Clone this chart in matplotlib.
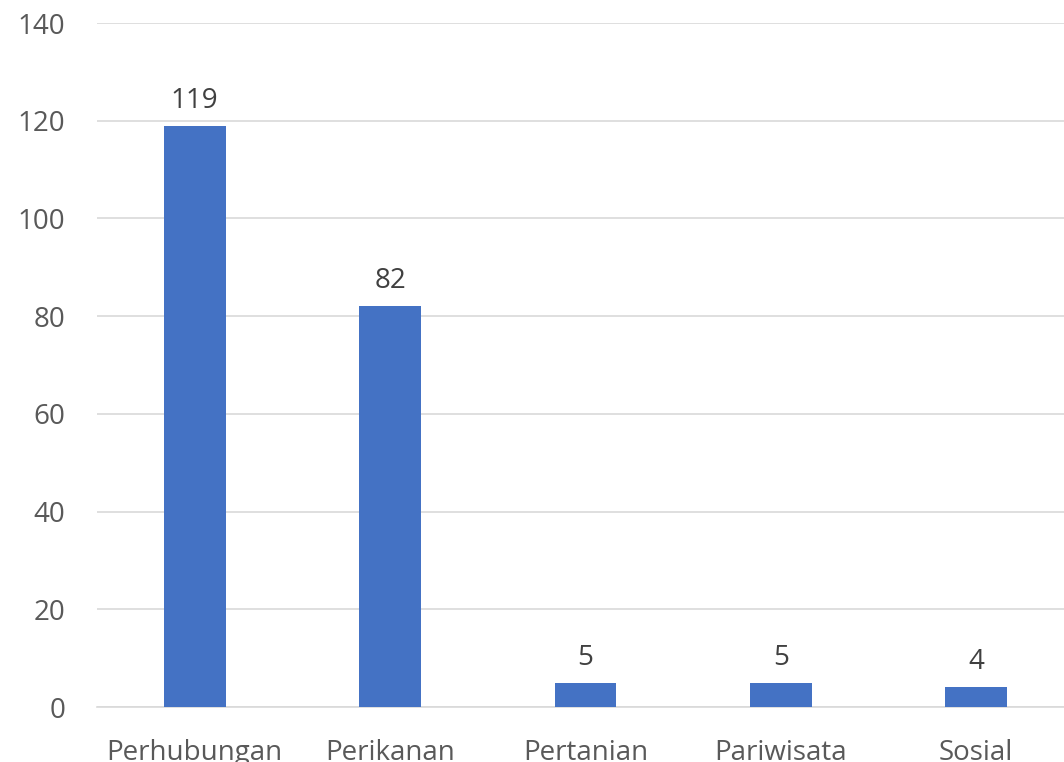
import matplotlib.pyplot as plt

kategori = ["Perhubungan", "Perikanan", "Pertanian", "Pariwisata", "Sosial"]
jumlah = [119, 82, 5, 5, 4]
y_ticks = [0, 20, 40, 60, 80, 100, 120, 140]

plt.rcParams["font.family"] = ["Open Sans", "DejaVu Sans"]

fig = plt.figure(figsize=(10.64, 7.62), dpi=100)
ax = fig.add_axes([97 / 1064, 55 / 762, 977 / 1064, 684 / 762])

x = range(len(kategori))
bars = ax.bar(x, jumlah, width=0.317, color="#4472C4", zorder=3)

for b, v in zip(bars, jumlah):
    ax.annotate(str(v), (b.get_x() + b.get_width() / 2, v), xytext=(0, 13),
                textcoords="offset points", ha="center", va="baseline",
                fontsize=20, color="#404040")

ax.set_xlim(-0.5, len(kategori) - 0.5)
ax.set_ylim(0, 140)
ax.set_yticks(y_ticks)
ax.set_xticks(list(x))
ax.set_xticklabels(kategori)
ax.grid(axis="y", color="#D9D9D9", linewidth=1.2, zorder=0)
for s in ["top", "right", "left"]:
    ax.spines[s].set_visible(False)
ax.spines["bottom"].set_color("#D9D9D9")
ax.spines["bottom"].set_linewidth(1.2)
ax.tick_params(axis="both", length=0, labelsize=20, colors="#595959")
ax.tick_params(axis="y", pad=23)
ax.tick_params(axis="x", pad=23)

fig.savefig("out.png", dpi=100)
